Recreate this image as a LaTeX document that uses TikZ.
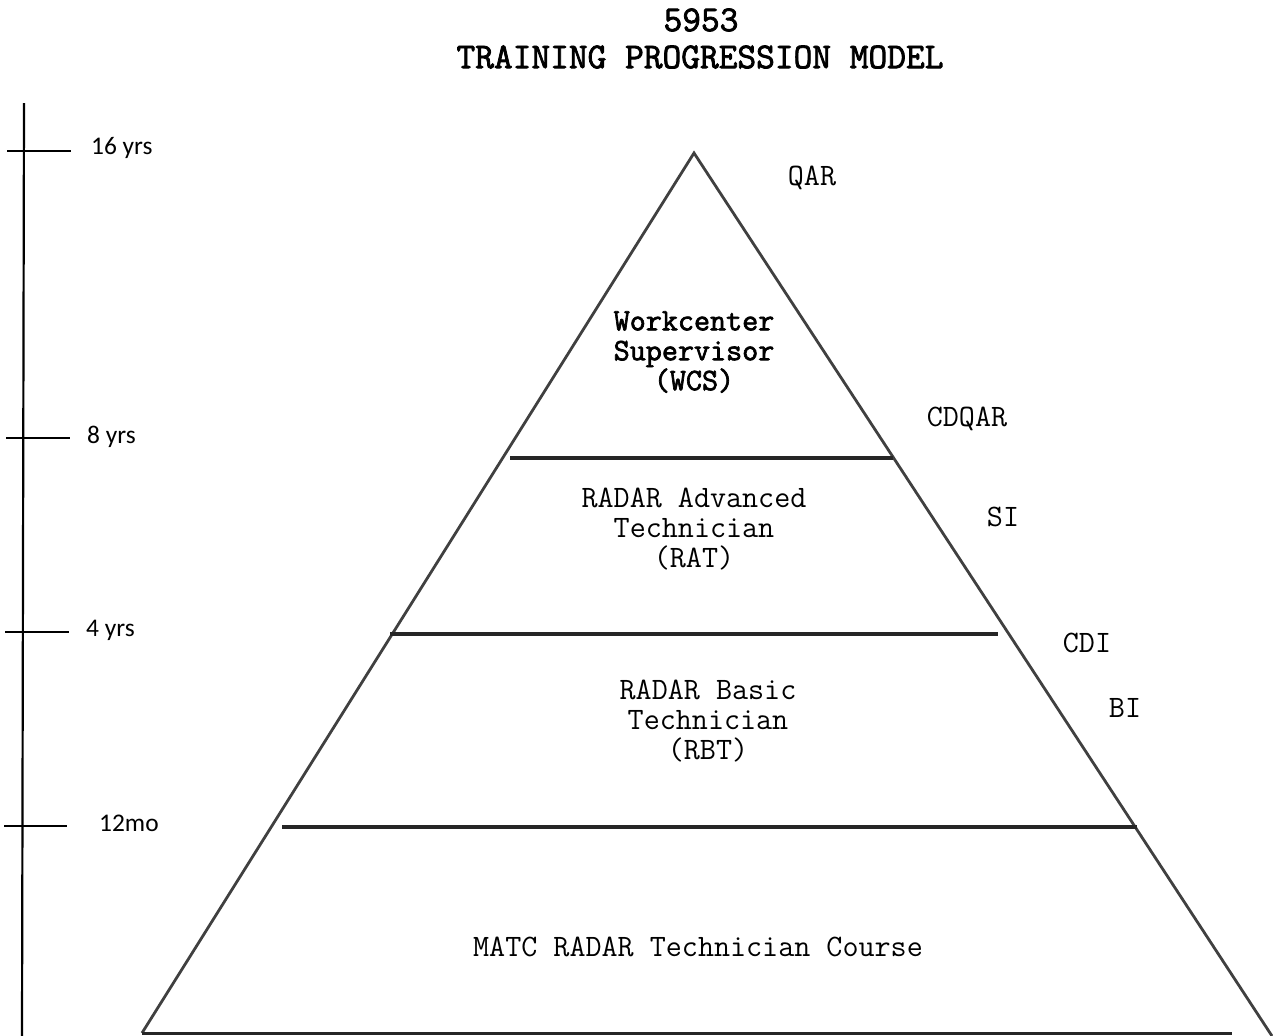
\documentclass[tikz,border=0pt]{standalone}
\usepackage{fontspec}
\newfontfamily\calf{Carlito}
\newfontfamily\ttbf{Latin Modern Mono}[FakeBold=2.2]
\begin{document}
\begin{tikzpicture}[x=1bp,y=-1bp,
  mono/.style={font=\ttfamily\fontsize{31.3}{30}\selectfont, inner sep=0pt, align=center},
  monob/.style={font=\ttbf\fontsize{31.3}{30}\selectfont, inner sep=0pt, align=center},
  titlef/.style={font=\ttbf\fontsize{36.5}{38}\selectfont, inner sep=0pt},
  agelab/.style={font=\calf\fontsize{25.5}{30}\selectfont, inner sep=0pt, anchor=west},
  edge/.style={draw=black!75, line width=2.8pt},
  band/.style={draw=black!85, line width=3.6pt},
  axis/.style={draw=black, line width=2.2pt}]
\useasboundingbox (0,0) rectangle (1273,1036);
% title
\node[titlef] (t1) at (701,20) {5953};
\node[titlef] (t2) at (700,57) {TRAINING PROGRESSION MODEL};
% axis
\coordinate (axtop) at (24,103);
\coordinate (axbot) at (22,1036);
\draw[axis] (axtop) -- (axbot);
\coordinate (k1a) at (7,151); \coordinate (k1b) at (71,151);
\coordinate (k2a) at (6,438); \coordinate (k2b) at (70,438);
\coordinate (k3a) at (5,632); \coordinate (k3b) at (69,632);
\coordinate (k4a) at (4,826); \coordinate (k4b) at (67,826);
\draw[axis] (k1a) -- (k1b);
\draw[axis] (k2a) -- (k2b);
\draw[axis] (k3a) -- (k3b);
\draw[axis] (k4a) -- (k4b);
\node[agelab] (l1) at (91,148) {16 yrs};
\node[agelab] (l2) at (87,437) {8 yrs};
\node[agelab] (l3) at (86,630) {4 yrs};
\node[agelab] (l4) at (99,823) {12mo};
% pyramid
\coordinate (apex) at (694,153);
\coordinate (bl) at (142,1033);
\coordinate (br) at (1272,1036);
\coordinate (bend) at (1232,1033);
\draw[edge, line join=miter] (bl) -- (apex) -- (br);
\draw[band, line width=3pt] (bl) -- (bend);
\coordinate (h1a) at (510,458); \coordinate (h1b) at (893,458);
\coordinate (h2a) at (390,634); \coordinate (h2b) at (998,634);
\coordinate (h3a) at (282,827); \coordinate (h3b) at (1137,827);
\draw[band] (h1a) -- (h1b);
\draw[band] (h2a) -- (h2b);
\draw[band] (h3a) -- (h3b);
% tier texts
\node[monob] (wcs) at (694,352) {Workcenter\\Supervisor\\(WCS)};
\node[mono] (rat) at (694,529) {RADAR Advanced\\Technician\\(RAT)};
\node[mono] (rbt) at (708,721) {RADAR Basic\\Technician\\(RBT)};
\node[mono] (matc) at (698,947) {MATC RADAR Technician Course};
% right labels
\node[mono] (qar) at (812,178) {QAR};
\node[mono] (cdqar) at (967,419) {CDQAR};
\node[mono] (si) at (1003,517) {SI};
\node[mono] (cdi) at (1087,643) {CDI};
\node[mono] (bi) at (1125,708) {BI};
\end{tikzpicture}
\end{document}
